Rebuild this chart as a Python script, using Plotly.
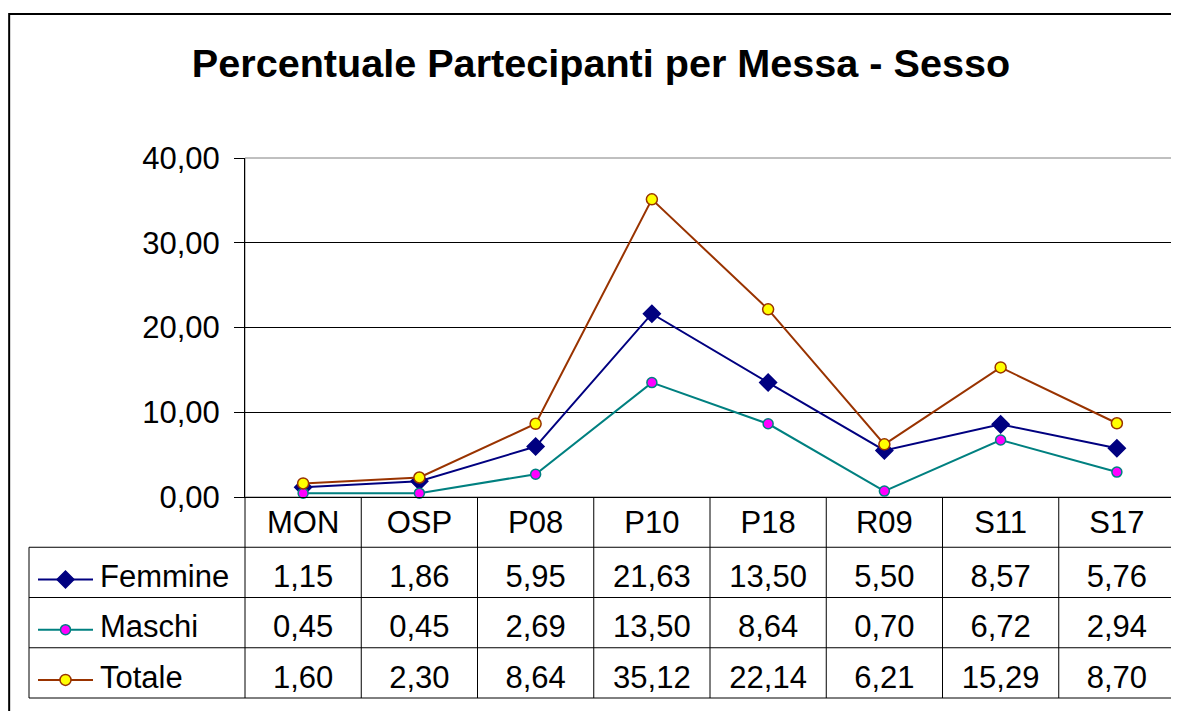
import plotly.graph_objects as go

# ---- data ----
CATEGORIES = ["MON", "OSP", "P08", "P10", "P18", "R09", "S11", "S17"]
FEMMINE = [1.15, 1.86, 5.95, 21.63, 13.50, 5.50, 8.57, 5.76]
MASCHI = [0.45, 0.45, 2.69, 13.50, 8.64, 0.70, 6.72, 2.94]
TOTALE = [1.60, 2.30, 8.64, 35.12, 22.14, 6.21, 15.29, 8.70]
SERIES_NAMES = ["Femmine", "Maschi", "Totale"]
Y_TICKS = [0, 10, 20, 30, 40]

TITLE = "Percentuale Partecipanti per Messa - Sesso"

# ---- styles (Excel 2003 palette) ----
STYLES = {
    "Femmine": dict(line="#000080", fill="#000080", symbol="diamond", size=13),
    "Maschi": dict(line="#008080", fill="#FF00FF", symbol="circle", size=10),
    "Totale": dict(line="#993300", fill="#FFFF00", symbol="circle", size=11),
}
FONT = "Arial, 'Liberation Sans', sans-serif"

# the page body keeps its 8px default margin, so the figure is drawn that much smaller
PAGE_W, PAGE_H, BODY = 1179, 711, 8
W, H = PAGE_W - BODY, PAGE_H - BODY

# pixel frame of the original chart (screen coordinates)
PLOT_L, PLOT_R, PLOT_T, PLOT_B = 245, 1175, 158, 497
TABLE_L, TABLE_B = 29, 698
N = len(CATEGORIES)
COL_W = (PLOT_R - PLOT_L) / N
ROW_H = (TABLE_B - PLOT_B) / 4


def px(x):
    return (x - BODY) / W


def py(y):
    return 1 - (y - BODY) / H


def col(xpix):
    # screen pixel -> table column units (0 = first category)
    return -0.5 + (xpix - PLOT_L) / COL_W


def row(ypix):
    # screen pixel -> table row units (0 = header row)
    return -0.5 + (ypix - PLOT_B) / ROW_H


def fmt(v):
    return f"{v:.2f}".replace(".", ",")


series = dict(zip(SERIES_NAMES, [FEMMINE, MASCHI, TOTALE]))
idx = list(range(N))

fig = go.Figure()

# ========== chart lines ==========
for name in SERIES_NAMES:
    st = STYLES[name]
    fig.add_trace(go.Scatter(
        x=CATEGORIES, y=series[name], mode="lines+markers", name=name,
        line=dict(color=st["line"], width=2),
        marker=dict(symbol=st["symbol"], size=st["size"], color=st["fill"],
                    line=dict(color=st["line"], width=1.5)),
        cliponaxis=False, showlegend=False,
    ))

# ========== data table ==========
TXT = dict(size=31, color="black", family=FONT)
ROW_OFF = 0.14  # text sits a bit low in each row, as in Excel

fig.add_trace(go.Scatter(
    x=idx, y=[0.06] * N, mode="text", text=CATEGORIES, textfont=TXT,
    xaxis="x2", yaxis="y2", showlegend=False, hoverinfo="skip", cliponaxis=False,
))
for r, name in enumerate(SERIES_NAMES, start=1):
    st = STYLES[name]
    yr = r + ROW_OFF
    fig.add_trace(go.Scatter(
        x=idx, y=[yr] * N, mode="text", text=[fmt(v) for v in series[name]],
        textfont=TXT, xaxis="x2", yaxis="y2", showlegend=False,
        hoverinfo="skip", cliponaxis=False,
    ))
    fig.add_trace(go.Scatter(
        x=[col(100)], y=[yr], mode="text", text=[name], textposition="middle right",
        textfont=TXT, xaxis="x2", yaxis="y2", showlegend=False,
        hoverinfo="skip", cliponaxis=False,
    ))
    # legend key: line + marker
    fig.add_trace(go.Scatter(
        x=[col(38), col(93)], y=[yr, yr], mode="lines",
        line=dict(color=st["line"], width=2),
        xaxis="x2", yaxis="y2", showlegend=False, hoverinfo="skip",
    ))
    fig.add_trace(go.Scatter(
        x=[col(65.5)], y=[yr], mode="markers",
        marker=dict(symbol=st["symbol"], size=st["size"], color=st["fill"],
                    line=dict(color=st["line"], width=1.5)),
        xaxis="x2", yaxis="y2", showlegend=False, hoverinfo="skip", cliponaxis=False,
    ))

# table grid lines
LINE = dict(color="black", width=1)
x_lo, x_hi = col(TABLE_L), N - 0.5
shapes = []
for k in range(N + 1):
    shapes.append(dict(type="line", xref="x2", yref="y2", x0=k - 0.5, x1=k - 0.5,
                       y0=-0.5, y1=3.5, line=LINE))
shapes.append(dict(type="line", xref="x2", yref="y2", x0=x_lo, x1=x_lo,
                   y0=0.5, y1=3.5, line=LINE))
for r in range(1, 5):
    shapes.append(dict(type="line", xref="x2", yref="y2", x0=x_lo, x1=x_hi,
                       y0=r - 0.5, y1=r - 0.5, line=LINE))

# plot-area frame (grey) and outer chart border
shapes.append(dict(type="rect", xref="x domain", yref="y domain", x0=0, x1=1, y0=0, y1=1,
                   line=dict(color="#808080", width=1), layer="below"))
shapes.append(dict(type="rect", xref="paper", yref="paper", x0=0.001, x1=1.05,
                   y0=-0.05, y1=py(14), line=dict(color="black", width=2)))

fig.update_layout(
    template="none",
    width=W, height=H, autosize=False,
    margin=dict(l=0, r=0, t=0, b=0, pad=0),
    paper_bgcolor="white", plot_bgcolor="white",
    separators=",.",
    font=dict(family=FONT, color="black"),
    title=dict(text=TITLE, x=px(601), xanchor="center", y=py(63), yanchor="middle",
               automargin=False,
               font=dict(size=39.6, family=FONT, color="black", weight="bold")),
    xaxis=dict(domain=[px(PLOT_L), px(PLOT_R)], type="category", range=[-0.5, N - 0.5],
               showticklabels=False, ticks="", showgrid=False, zeroline=False,
               showline=True, linecolor="black", linewidth=1, automargin=False),
    yaxis=dict(domain=[py(PLOT_B), py(PLOT_T)], range=[0, 40], tickvals=Y_TICKS,
               tickformat=".2f", ticks="outside", ticklen=10, tickwidth=1,
               tickcolor="black", tickfont=dict(size=31, color="black", family=FONT),
               ticklabelstandoff=8, automargin=False,
               showline=True, linecolor="black", linewidth=1,
               showgrid=True, gridcolor="black", gridwidth=1, zeroline=False),
    xaxis2=dict(domain=[0, 1], range=[col(BODY), col(PAGE_W)], visible=False,
                anchor="y2", automargin=False),
    yaxis2=dict(domain=[0, py(PLOT_B)], range=[row(PAGE_H), -0.5], visible=False,
                anchor="x2", automargin=False),
    shapes=shapes,
)

fig.write_html("out.html")
